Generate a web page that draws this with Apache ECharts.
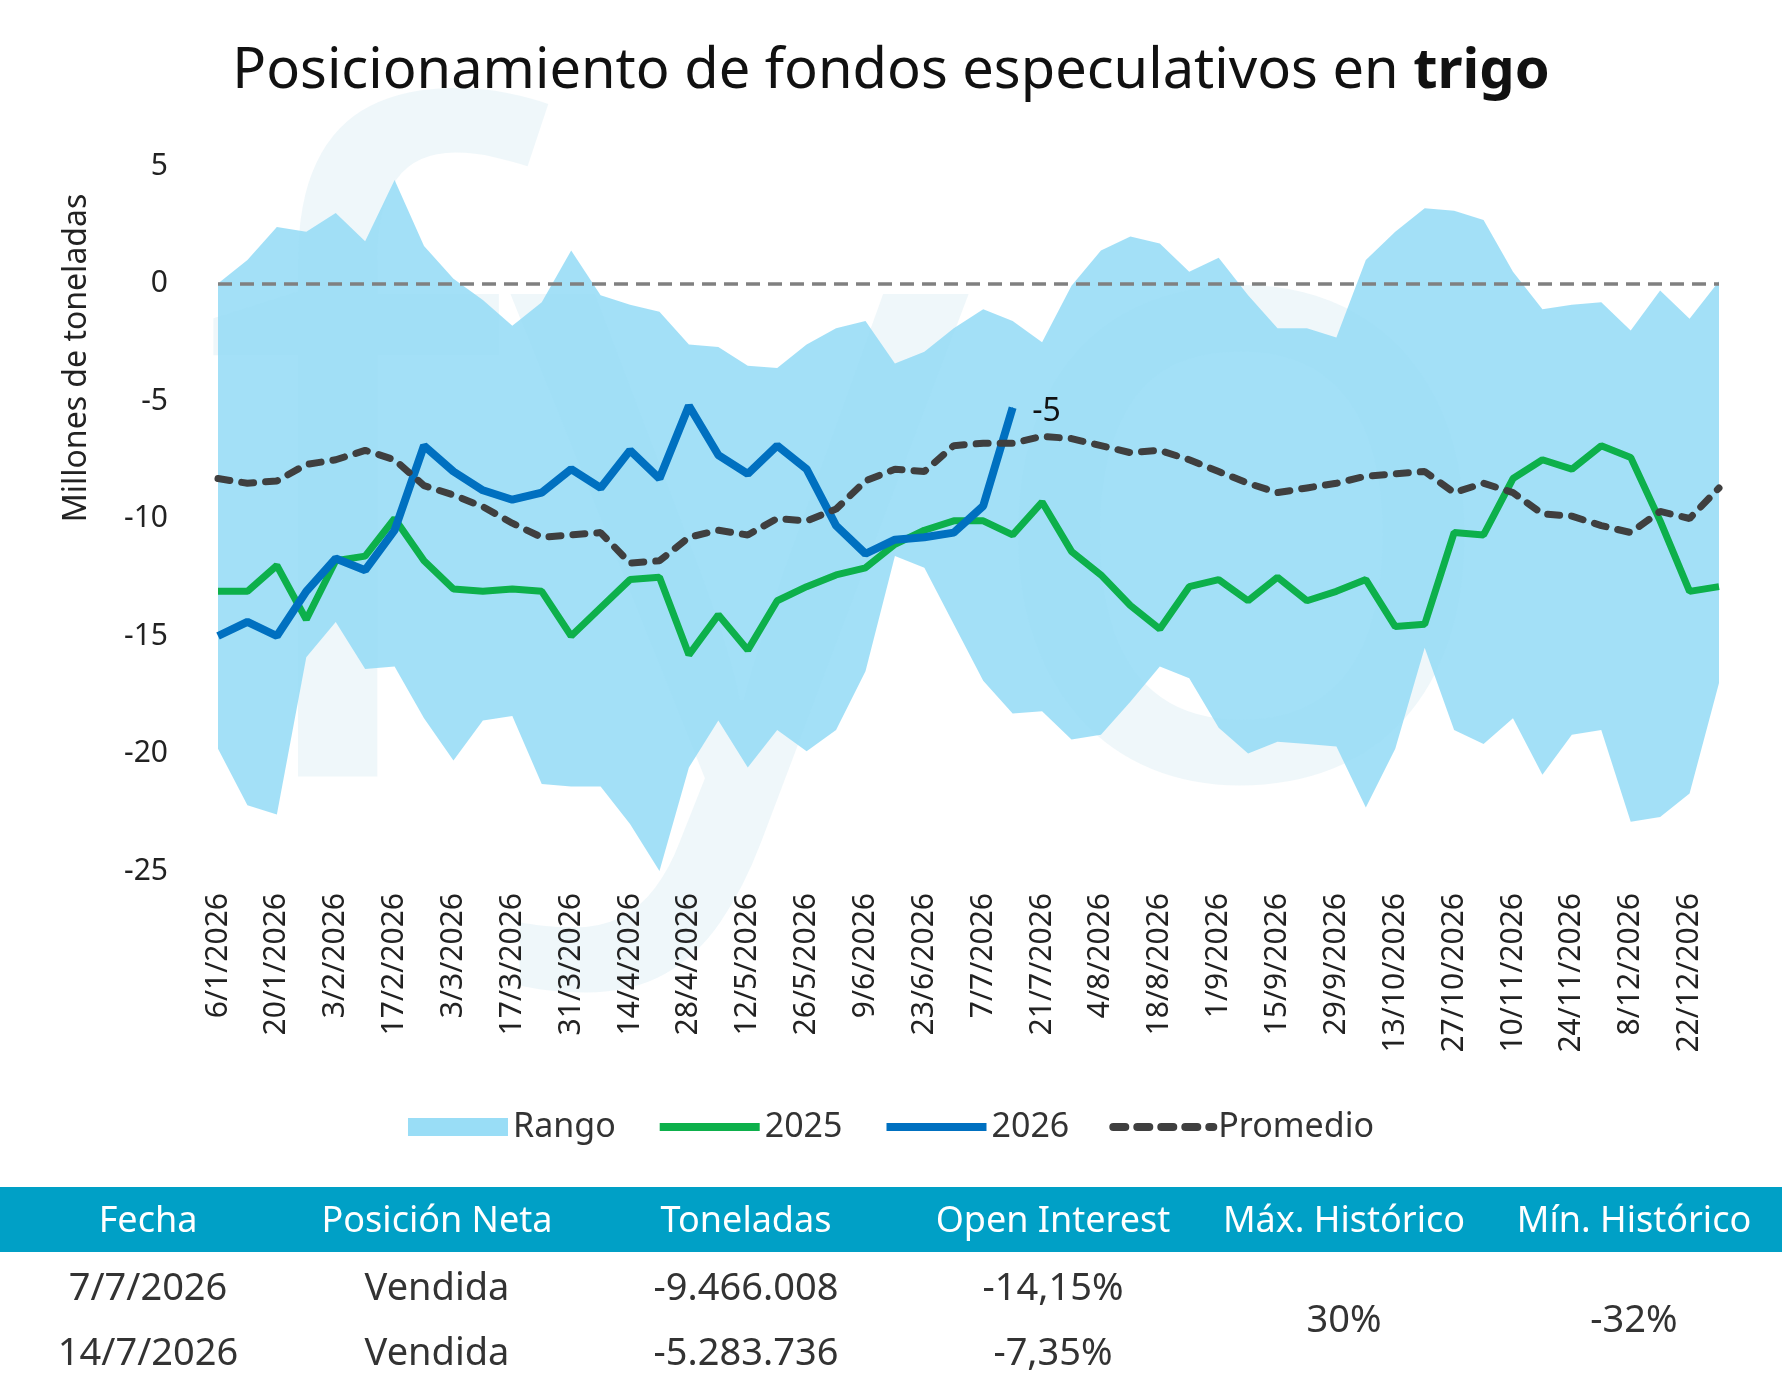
<!DOCTYPE html>
<html>
<head>
<meta charset="utf-8">
<script src="https://cdn.jsdelivr.net/npm/echarts@6/dist/echarts.min.js"></script>
<style>html,body{margin:0;padding:0;background:#fff}#c{width:1782px;height:1389px}</style>
</head>
<body>
<div id="c"></div>
<script>
let chart = echarts.init(document.getElementById('c'))
let font = 'Noto Sans'

// semanas del 2026
let fechas = []
for (let i = 0; i < 52; i++) {
  let d = new Date(2026, 0, 6 + i * 7)
  fechas.push(d.getDate() + '/' + (d.getMonth() + 1) + '/' + d.getFullYear())
}

// rango historico, millones de toneladas
let maximo = [0, 1, 2.4, 2.2, 3, 1.8, 4.4, 1.6, 0.2, -0.7, -1.8, -0.8, 1.4, -0.5, -0.9, -1.2, -2.6, -2.7, -3.5, -3.6,
  -2.6, -1.9, -1.6, -3.4, -2.9, -1.9, -1.1, -1.6, -2.5, -0.1, 1.4, 2, 1.7, 0.5, 1.1, -0.5, -1.9, -1.9, -2.3, 1,
  2.2, 3.2, 3.1, 2.7, 0.5, -1.1, -0.9, -0.8, -2, -0.3, -1.5, 0.1]
let minimo = [-19.8, -22.2, -22.6, -15.9, -14.4, -16.4, -16.3, -18.5, -20.3, -18.6, -18.4, -21.3, -21.4, -21.4, -23, -25, -20.6, -18.6, -20.6, -19,
  -19.9, -19, -16.5, -11.6, -12.1, -14.5, -16.9, -18.3, -18.2, -19.4, -19.2, -17.8, -16.3, -16.8, -18.9, -20, -19.5, -19.6, -19.7, -22.3,
  -19.8, -15.5, -19, -19.6, -18.5, -20.9, -19.2, -19, -22.9, -22.7, -21.7, -17]
let y2025 = [-13.1, -13.1, -12, -14.3, -11.8, -11.6, -10, -11.8, -13, -13.1, -13, -13.1, -15, -13.8, -12.6, -12.5, -15.8, -14.1, -15.6, -13.5,
  -12.9, -12.4, -12.1, -11.1, -10.5, -10.1, -10.1, -10.7, -9.3, -11.4, -12.4, -13.7, -14.7, -12.9, -12.6, -13.5, -12.5, -13.5, -13.1, -12.6,
  -14.6, -14.5, -10.6, -10.7, -8.3, -7.5, -7.9, -6.9, -7.4, -10.1, -13.1, -12.9]
let y2026 = [-15, -14.4, -15, -13.1, -11.7, -12.2, -10.5, -6.9, -8, -8.8, -9.2, -8.9, -7.9, -8.7, -7.1, -8.3, -5.2, -7.3, -8.1, -6.9,
  -7.9, -10.3, -11.5, -10.9, -10.8, -10.6, -9.466, -5.284]
let promedio = [-8.3, -8.5, -8.4, -7.7, -7.5, -7.1, -7.5, -8.6, -9, -9.5, -10.2, -10.8, -10.7, -10.6, -11.9, -11.8, -10.8, -10.5, -10.7, -10,
  -10.1, -9.6, -8.4, -7.9, -8, -6.9, -6.8, -6.8, -6.5, -6.6, -6.9, -7.2, -7.1, -7.5, -8, -8.5, -8.9, -8.7, -8.5, -8.2,
  -8.1, -8, -8.9, -8.5, -8.9, -9.8, -9.9, -10.3, -10.6, -9.7, -10, -8.7]

let datos2026 = y2026.map((v, i) => i === y2026.length - 1
  ? { value: v, symbol: 'circle', symbolSize: 1, label: { show: true, position: 'right', offset: [14, 4], formatter: '-5', fontSize: 32, color: '#111', fontFamily: font } }
  : v)

// tabla de abajo
let cols = [148, 437, 746, 1053, 1344, 1634]
let cab = ['Fecha', 'Posición Neta', 'Toneladas', 'Open Interest', 'Máx. Histórico', 'Mín. Histórico']
let filas = [['7/7/2026', 'Vendida', '-9.466.008', '-14,15%'], ['14/7/2026', 'Vendida', '-5.283.736', '-7,35%']]
let graficos = [
  { type: 'text', left: 'center', top: 44, style: { rich: { a: { fontSize: 56, fontFamily: font, fill: '#111' }, b: { fontSize: 56, fontFamily: font, fontWeight: 'bold', fill: '#111' } }, text: '{a|Posicionamiento de fondos especulativos en }{b|trigo}' } },
  { type: 'text', x: 77, y: 358, rotation: Math.PI / 2, style: { text: 'Millones de toneladas', align: 'center', verticalAlign: 'middle', fontSize: 32, fontFamily: font, fill: '#222' } },
  { type: 'text', z: -1, left: 200, top: 70, style: { text: 'fyo', fontSize: 900, fontFamily: font, fill: 'rgba(190,225,235,0.25)' } },
  { type: 'rect', shape: { x: 0, y: 1187, width: 1782, height: 65 }, style: { fill: '#00a0c6' } }
]
cab.forEach((t, i) => graficos.push({ type: 'text', x: cols[i], y: 1222, style: { text: t, align: 'center', verticalAlign: 'middle', fontSize: 36, fontFamily: font, fill: '#fff' } }))
filas.forEach((f, r) => f.forEach((t, i) => graficos.push({ type: 'text', x: cols[i], y: 1289 + r * 65, style: { text: t, align: 'center', verticalAlign: 'middle', fontSize: 38, fontFamily: font, fill: '#333' } })))
graficos.push({ type: 'text', x: cols[4], y: 1321, style: { text: '30%', align: 'center', verticalAlign: 'middle', fontSize: 38, fontFamily: font, fill: '#333' } })
graficos.push({ type: 'text', x: cols[5], y: 1321, style: { text: '-32%', align: 'center', verticalAlign: 'middle', fontSize: 38, fontFamily: font, fill: '#333' } })

let option = {
  animation: false,
  graphic: graficos,
  legend: {
    top: 1105, left: 'center', itemWidth: 100, itemHeight: 18, itemGap: 40,
    textStyle: { fontSize: 34, fontFamily: font, color: '#333' },
    itemStyle: { opacity: 0 },
    lineStyle: { width: 8 },
    data: [{ name: 'Rango', icon: 'rect', itemStyle: { opacity: 1, color: '#99ddf6' } }, '2025', '2026', 'Promedio']
  },
  grid: { left: 218, right: 63, top: 166, bottom: 518 },
  xAxis: {
    type: 'category', data: fechas, boundaryGap: false,
    axisLine: { show: false }, axisTick: { show: false },
    axisLabel: { interval: 1, rotate: 90, fontSize: 30, fontFamily: font, color: '#222', margin: 22 }
  },
  yAxis: {
    type: 'value', min: -25, max: 5, interval: 5,
    splitLine: { show: false },
    axisLabel: { fontSize: 30, fontFamily: font, color: '#222', margin: 50 }
  },
  series: [
    { name: 'base', type: 'line', stack: 'r', stackStrategy: 'all', data: minimo, symbol: 'none', lineStyle: { opacity: 0 }, silent: true },
    {
      name: 'Rango', type: 'line', stack: 'r', stackStrategy: 'all', data: maximo.map((v, i) => +(v - minimo[i]).toFixed(2)), symbol: 'none',
      lineStyle: { opacity: 0 }, itemStyle: { color: '#99ddf6' }, areaStyle: { color: '#99ddf6', opacity: 0.9 },
      markLine: { silent: true, symbol: 'none', label: { show: false }, lineStyle: { color: '#808080', type: [14, 8], width: 3.5 }, data: [{ yAxis: 0 }] }
    },
    { name: '2025', type: 'line', data: y2025, symbol: 'none', lineStyle: { width: 7, color: '#0db04b' }, itemStyle: { color: '#0db04b' } },
    { name: '2026', type: 'line', data: datos2026, symbol: 'none', lineStyle: { width: 8, color: '#0070c0' }, itemStyle: { color: '#0070c0' } },
    { name: 'Promedio', type: 'line', data: promedio, symbol: 'none', lineStyle: { width: 7, color: '#3f3f3f', type: [12, 12], cap: 'round' }, itemStyle: { color: '#3f3f3f' } }
  ]
}
chart.setOption(option)
</script>
</body>
</html>
